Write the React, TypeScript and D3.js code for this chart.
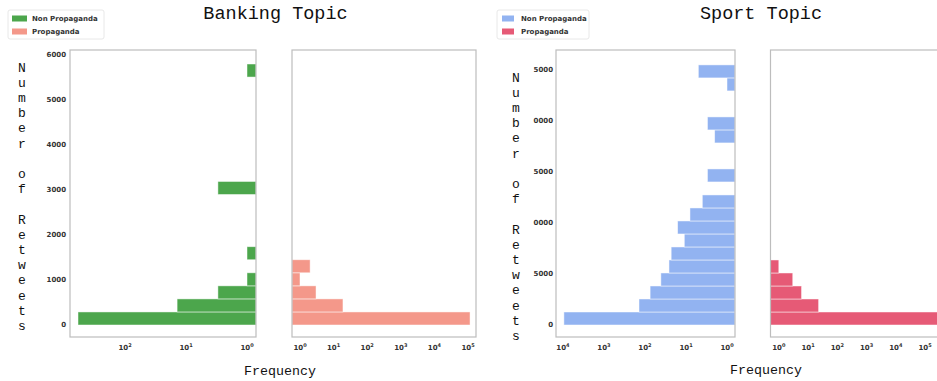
import React from "react";
import * as d3 from "d3";

// ---------- data ----------
const seriesNames = ["Non Propaganda", "Propaganda"];

// Banking topic: 20 retweet bins of 290 retweets each (0 .. 5800)
const bankingBinStep = 290;
const bankingNonProp = [590, 14, 3, 1, 0, 1, 0, 0, 0, 0, 3, 0, 0, 0, 0, 0, 0, 0, 0, 1];
const bankingProp = [115000, 19, 3, 1, 2, 0, 0, 0, 0, 0, 0, 0, 0, 0, 0, 0, 0, 0, 0, 0];
const bankingYTicks = [0, 1000, 2000, 3000, 4000, 5000, 6000];
const bankingYTickLabels = ["0", "1000", "2000", "3000", "4000", "5000", "6000"];

// Sport topic: 20 retweet bins of 1275 retweets each (0 .. 25500)
const sportBinStep = 1275;
const sportNonProp = [9500, 140, 75, 41, 26, 23, 11, 16, 8, 4, 0, 3, 0, 0, 2, 3, 0, 0, 1, 5];
const sportProp = [400000, 23, 6, 3, 1, 0, 0, 0, 0, 0, 0, 0, 0, 0, 0, 0, 0, 0, 0, 0];
const sportYTicks = [0, 5000, 10000, 15000, 20000, 25000];
const sportYTickLabels = ["0", "5000", "0000", "5000", "0000", "5000"];

const nonPropXExpsBanking = [2, 1, 0];
const nonPropXExpsSport = [4, 3, 2, 1, 0];
const propXExps = [0, 1, 2, 3, 4, 5];

const titles = ["Banking Topic", "Sport Topic"];
const yLabel = "Number of Retweets";
const xLabel = "Frequency";

// ---------- styling ----------
const W = 937;
const H = 381;
const mono = "'Liberation Mono', 'Courier New', monospace";
const sans = "'DejaVu Sans', sans-serif";
const frameStroke = "#bdbdbd";
const tickColor = "#333";

type PanelProps = {
  counts: number[];
  step: number;
  xScale: d3.ScaleLogarithmic<number, number>;
  yScale: d3.ScaleLinear<number, number>;
  reversed: boolean;
  color: string;
  top: number;
  bottom: number;
  exps: number[];
};

function Panel({ counts, step, xScale, yScale, reversed, color, top, bottom, exps }: PanelProps) {
  const [r0, r1] = xScale.range();
  const left = Math.min(r0, r1);
  const right = Math.max(r0, r1);
  const base = reversed ? right : left;
  return (
    <g>
      {counts.map((c, i) => {
        if (c <= 0) return null;
        const xv = xScale(c);
        const y1 = yScale((i + 1) * step);
        const y0 = yScale(i * step);
        const x = Math.min(xv, base);
        return (
          <rect
            key={i}
            x={x}
            y={y1}
            width={Math.abs(base - xv)}
            height={y0 - y1}
            fill={color}
            stroke="#ffffff"
            strokeOpacity={0.6}
            strokeWidth={0.8}
          />
        );
      })}
      <rect x={left} y={top} width={right - left} height={bottom - top} fill="none" stroke={frameStroke} strokeWidth={1.2} />
      {exps.map((e) => (
        <text
          key={e}
          x={xScale(Math.pow(10, e))}
          y={350}
          textAnchor="middle"
          fontFamily={sans}
          fontWeight="bold"
          fontSize={7}
          fill={tickColor}
        >
          10
          <tspan dy={-3} fontSize={5}>
            {String(e)}
          </tspan>
        </text>
      ))}
    </g>
  );
}

function YAxis({ ticks, labels, yScale, x }: { ticks: number[]; labels: string[]; yScale: d3.ScaleLinear<number, number>; x: number }) {
  return (
    <g>
      {ticks.map((t, i) => (
        <text
          key={t}
          x={x}
          y={yScale(t)}
          dy="0.35em"
          textAnchor="end"
          fontFamily={sans}
          fontWeight="bold"
          fontSize={7}
          fill={tickColor}
        >
          {labels[i]}
        </text>
      ))}
    </g>
  );
}

function VerticalLabel({ x, y0, text }: { x: number; y0: number; text: string }) {
  return (
    <g>
      {text.split("").map((ch, i) =>
        ch === " " ? null : (
          <text
            key={i}
            x={x}
            y={y0 + i * 15.2}
            dy="0.35em"
            textAnchor="middle"
            fontFamily={mono}
            fontSize={13}
            fill="#111"
          >
            {ch}
          </text>
        )
      )}
    </g>
  );
}

function Legend({ x, y, w, colors, patchX, patchW, textX }: { x: number; y: number; w: number; colors: string[]; patchX: number; patchW: number; textX: number }) {
  return (
    <g>
      <rect x={x} y={y} width={w} height={29} rx={2} fill="#fff" stroke="#e2e2e2" strokeWidth={0.8} />
      {seriesNames.map((n, i) => (
        <g key={n}>
          <rect x={patchX} y={y + 5.5 + i * 13} width={patchW} height={6} fill={colors[i]} />
          <text x={textX} y={y + 8.5 + i * 13} dy="0.35em" fontFamily={sans} fontWeight="bold" fontSize={7} fill={tickColor}>
            {n}
          </text>
        </g>
      ))}
    </g>
  );
}

export default function App() {
  const top = 50;
  const bottom = 337;

  const bankingY = d3.scaleLinear().domain([0, 6000]).range([325, 55]);
  const sportY = d3.scaleLinear().domain([0, 25000]).range([325, 70]);

  const bNon = d3.scaleLog().domain([798, 0.712]).range([70, 256]);
  const bProp = d3.scaleLog().domain([0.578, 173000]).range([292, 476]);
  const sNon = d3.scaleLog().domain([14800, 0.638]).range([556, 735]);
  const sProp = d3.scaleLog().domain([0.52, 661000]).range([770.5, 949]);

  const green = "#4ca64c";
  const salmon = "#f4988a";
  const blue = "#92b3f1";
  const red = "#e65a76";

  return (
    <svg width={W} height={H} style={{ position: "absolute", left: 0, top: 0, background: "#fff" }}>
      <rect x={0} y={0} width={W} height={H} fill="#fff" />
      {/* Banking */}
      <text x={275.5} y={19} textAnchor="middle" fontFamily={mono} fontSize={18.5} fill="#111">
        {titles[0]}
      </text>
      <Legend x={8} y={10} w={96} colors={[green, salmon]} patchX={12} patchW={15} textX={32} />
      <VerticalLabel x={22} y0={67} text={yLabel} />
      <YAxis ticks={bankingYTicks} labels={bankingYTickLabels} yScale={bankingY} x={66} />
      <Panel counts={bankingNonProp} step={bankingBinStep} xScale={bNon} yScale={bankingY} reversed={true} color={green} top={top} bottom={bottom} exps={nonPropXExpsBanking} />
      <Panel counts={bankingProp} step={bankingBinStep} xScale={bProp} yScale={bankingY} reversed={false} color={salmon} top={top} bottom={bottom} exps={propXExps} />
      <text x={280} y={375} textAnchor="middle" fontFamily={mono} fontSize={13.3} fill="#111">
        {xLabel}
      </text>

      {/* Sport */}
      <text x={761} y={19} textAnchor="middle" fontFamily={mono} fontSize={18.5} fill="#111">
        {titles[1]}
      </text>
      <Legend x={497} y={10} w={92} colors={[blue, red]} patchX={502} patchW={12} textX={521} />
      <VerticalLabel x={516} y0={77} text={yLabel} />
      <YAxis ticks={sportYTicks} labels={sportYTickLabels} yScale={sportY} x={553} />
      <Panel counts={sportNonProp} step={sportBinStep} xScale={sNon} yScale={sportY} reversed={true} color={blue} top={top} bottom={bottom} exps={nonPropXExpsSport} />
      <Panel counts={sportProp} step={sportBinStep} xScale={sProp} yScale={sportY} reversed={false} color={red} top={top} bottom={bottom} exps={propXExps} />
      <text x={766} y={374} textAnchor="middle" fontFamily={mono} fontSize={13.3} fill="#111">
        {xLabel}
      </text>
    </svg>
  );
}
